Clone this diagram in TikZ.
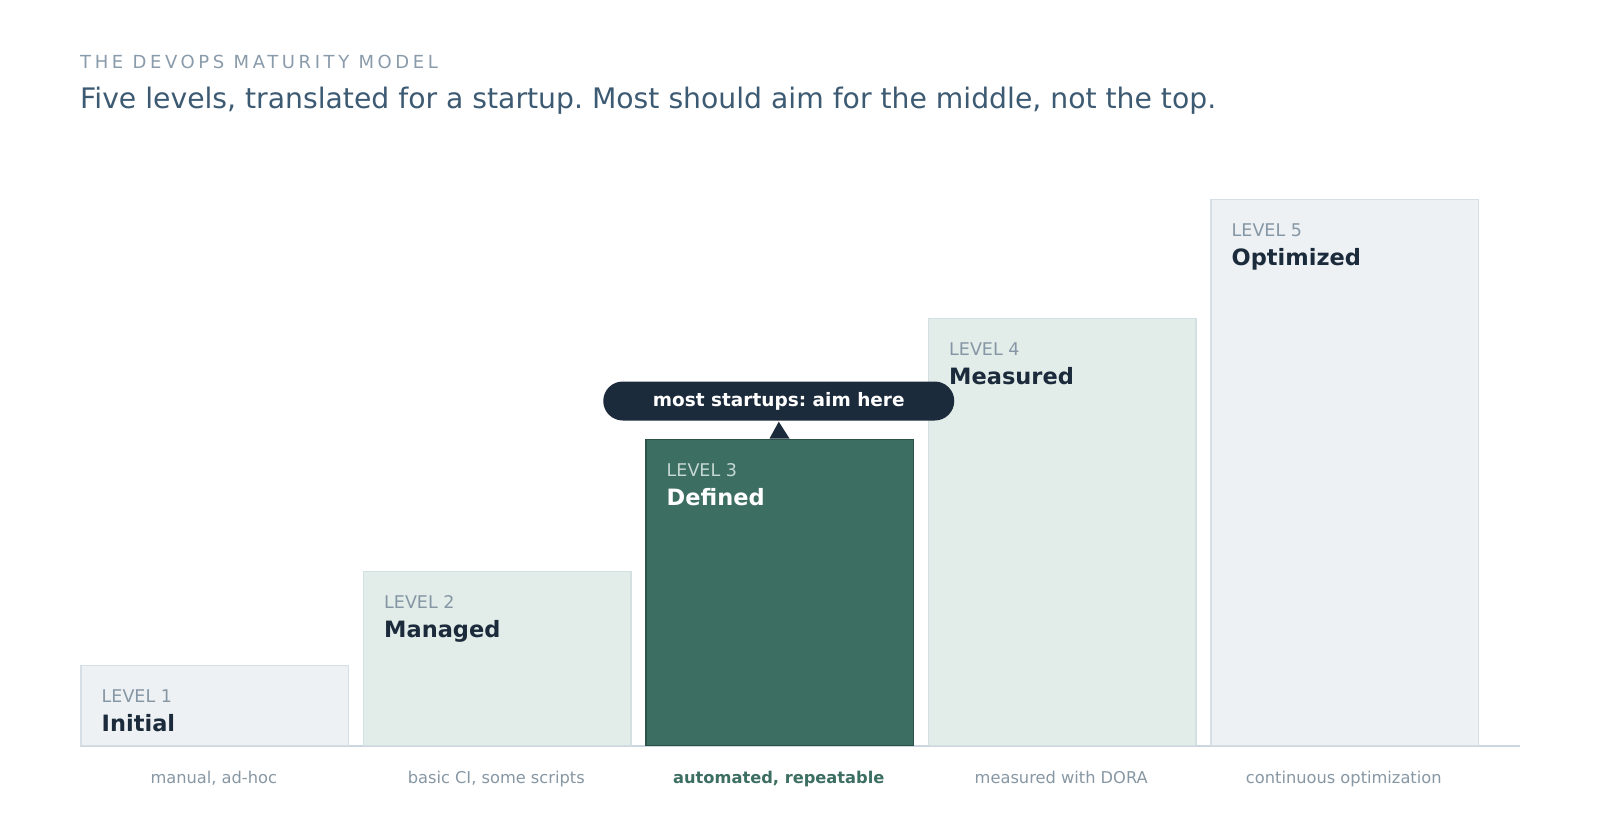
\documentclass[tikz,border=0pt]{standalone}
\usepackage{fontspec}
\setmainfont{DejaVu Sans}
\frenchspacing
\definecolor{hdrgray}{HTML}{8A9BAB}
\definecolor{titleblue}{HTML}{3D5A73}
\definecolor{navy}{HTML}{1C2B3B}
\definecolor{barGray}{HTML}{EDF1F4}
\definecolor{barGrayE}{HTML}{D6DFE6}
\definecolor{barGreen}{HTML}{E2ECE9}
\definecolor{barGreenE}{HTML}{D3E0E2}
\definecolor{teal}{HTML}{3C6E62}
\definecolor{tealE}{HTML}{2B5246}
\definecolor{axisgray}{HTML}{CCD6DE}
\definecolor{lvlgray}{HTML}{8596A4}
\definecolor{lvllight}{HTML}{C5D8D2}
\definecolor{capgray}{HTML}{8797A3}
\begin{document}
\begin{tikzpicture}[x=1pt,y=-1pt]
\tikzset{
  bar/.style={rectangle, anchor=south west, minimum width=267.5pt, inner sep=0, line width=1.5pt},
  barA/.style={bar, fill=barGray, draw=barGrayE},
  barB/.style={bar, fill=barGreen, draw=barGreenE},
  barC/.style={bar, fill=teal, draw=tealE},
  lvl/.style={anchor=base west, inner sep=0, font=\fontsize{17.5}{20}\selectfont, text=lvlgray},
  nm/.style={anchor=base west, inner sep=0, font=\bfseries\fontsize{22.5}{26}\selectfont, text=navy},
  captxt/.style={anchor=base, inner sep=0, font=\fontsize{16.25}{19}\selectfont, text=capgray},
}
\useasboundingbox[fill=white] (0,0) rectangle (1600,827);
% header
\node[anchor=base west, inner sep=0, text=hdrgray, font=\fontsize{18}{21}\selectfont\addfontfeature{LetterSpace=20}] (hdr) at (80,68.5) {THE DEVOPS MATURITY MODEL};
\node[anchor=base west, inner sep=0, text=titleblue, font=\fontsize{28.25}{32}\selectfont] (title) at (80,108) {Five levels, translated for a startup. Most should aim for the middle, not the top.};
% baseline
\coordinate (bl0) at (80,746);
\coordinate (bl1) at (1520,746);
\draw[draw=axisgray, line width=2pt] (bl0) -- (bl1);
% bars
\node[barA, minimum height=80pt] (b1) at (80,746) {};
\node[barB, minimum height=174pt] (b2) at (362.5,746) {};
\node[barC, minimum height=306pt] (b3) at (645,746) {};
\node[barB, minimum height=427pt] (b4) at (927.5,746) {};
\node[barA, minimum height=546pt] (b5) at (1210,746) {};
% labels
\node[lvl] (l1) at ([shift={(21.5,37.5)}]b1.north west) {LEVEL 1};
\node[nm] (n1) at ([shift={(21.5,66.5)}]b1.north west) {Initial};
\node[lvl] (l2) at ([shift={(21.5,37.5)}]b2.north west) {LEVEL 2};
\node[nm] (n2) at ([shift={(21.5,66.5)}]b2.north west) {Managed};
\node[lvl, text=lvllight] (l3) at ([shift={(21.5,37.5)}]b3.north west) {LEVEL 3};
\node[nm, text=white] (n3) at ([shift={(21.5,66.5)}]b3.north west) {Defined};
\node[lvl] (l4) at ([shift={(21.5,37.5)}]b4.north west) {LEVEL 4};
\node[nm] (n4) at ([shift={(21.5,66.5)}]b4.north west) {Measured};
\node[lvl] (l5) at ([shift={(21.5,37.5)}]b5.north west) {LEVEL 5};
\node[nm] (n5) at ([shift={(21.5,66.5)}]b5.north west) {Optimized};
% captions
\node[captxt] (c1) at (213.75,783) {manual, ad-hoc};
\node[captxt] (c2) at (496.25,783) {basic CI, some scripts};
\node[captxt, text=teal, font=\bfseries\fontsize{16.25}{19}\selectfont] (c3) at (778.75,783) {automated, repeatable};
\node[captxt] (c4) at (1061.25,783) {measured with DORA};
\node[captxt] (c5) at (1343.75,783) {continuous optimization};
% callout
\node[rectangle, rounded corners=19.5pt, fill=navy, minimum width=351pt, minimum height=39pt, inner sep=0,
      text=white, font=\bfseries\fontsize{18.5}{22}\selectfont] (pill) at (778.75,401) {most startups: aim here};
\fill[navy] ([yshift=-1pt]pill.south) -- ([xshift=-10pt]b3.north) -- ([xshift=10pt]b3.north) -- cycle;
\end{tikzpicture}
\end{document}
